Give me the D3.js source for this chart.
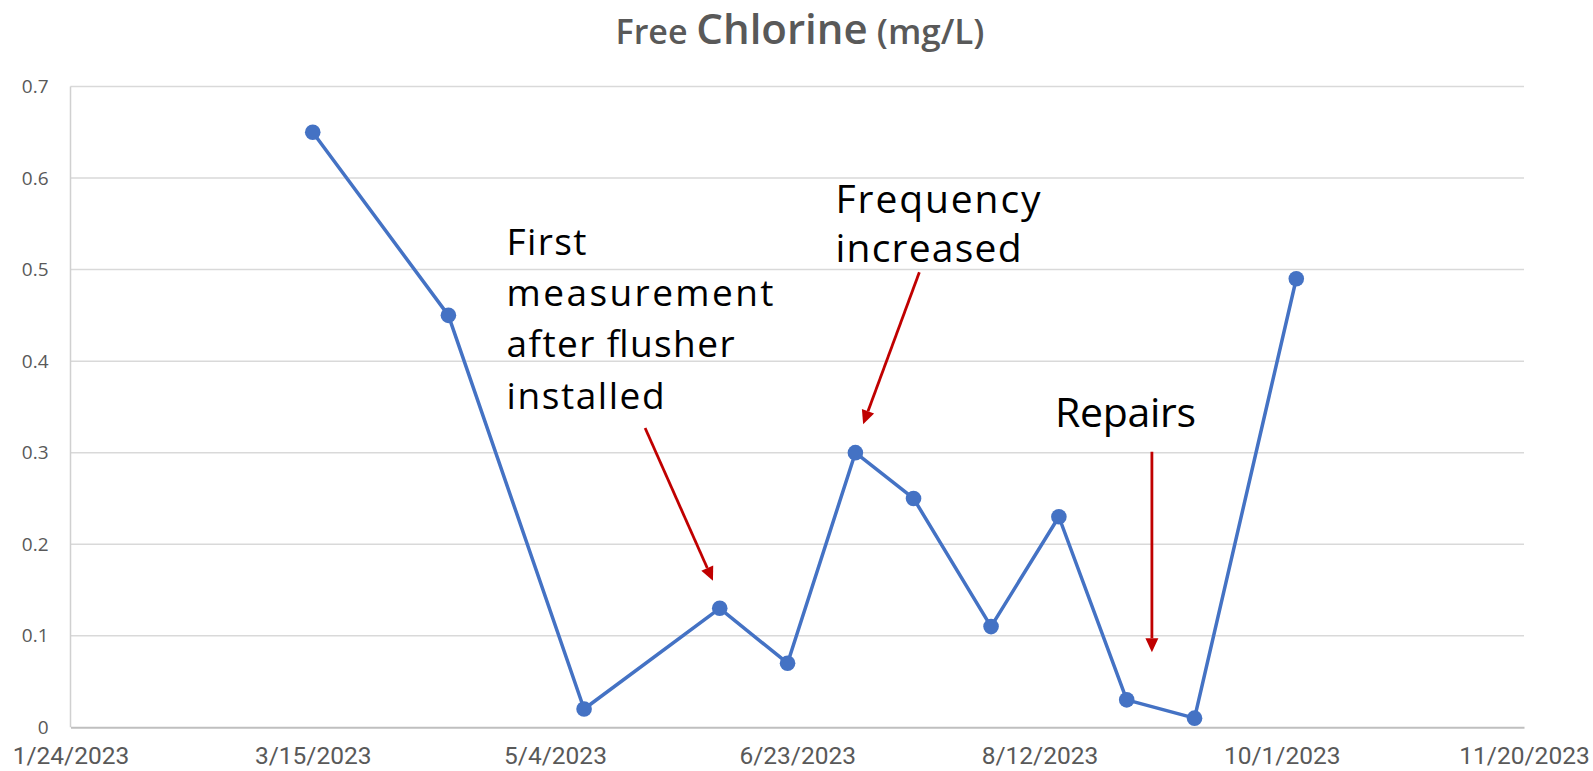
<!DOCTYPE html>
<html>
<head>
<meta charset="utf-8">
<script src="https://cdn.jsdelivr.net/npm/d3@7"></script>
<style>
  html, body { margin: 0; padding: 0; background: #ffffff; }
  svg { display: block; }
</style>
</head>
<body>
<svg id="chart" width="1593" height="771"></svg>
<script>
/* Data */
const sampleDates = ["2023-03-15", "2023-04-12", "2023-05-10", "2023-06-07", "2023-06-21", "2023-07-05",
	"2023-07-17", "2023-08-02", "2023-08-16", "2023-08-30", "2023-09-13", "2023-10-04"];
const freeChlorine = [0.65, 0.45, 0.02, 0.13, 0.07, 0.30, 0.25, 0.11, 0.23, 0.03, 0.01, 0.49];
const yTicks = [0, 0.1, 0.2, 0.3, 0.4, 0.5, 0.6, 0.7];
const xTickLabels = ["1/24/2023", "3/15/2023", "5/4/2023", "6/23/2023", "8/12/2023", "10/1/2023", "11/20/2023"];

// annotation anchors, in days after 1/24/2023 and mg/L
const noteTexts = [
	["First", "measurement", "after flusher", "installed"],
	["Frequency", "increased"],
	["Repairs"]
];
const noteArrows = [
	{ from: [118.6, 0.327], to: [132.6, 0.160] },
	{ from: [175.2, 0.497], to: [163.6, 0.331] },
	{ from: [223.2, 0.301], to: [223.2, 0.082] }
];

const width = 1593;
const height = 771;
const margin = { top: 86.5, right: 69, bottom: 43.7, left: 70.5 };

const parse = d3.utcParse("%Y-%m-%d");
const parseTick = d3.utcParse("%m/%d/%Y");
const fmt = d3.utcFormat("%-m/%-d/%Y");
const start = parseTick(xTickLabels[0]);
const end = parseTick(xTickLabels[xTickLabels.length - 1]);
const dayOf = (n) => new Date(start.getTime() + n * 864e5);

const data = sampleDates.map((d, i) => ({ date: parse(d), value: freeChlorine[i] }));

const xScale = d3.scaleUtc()
	.domain([start, end])
	.range([margin.left, width - margin.right]);

const yScale = d3.scaleLinear()
	.domain([0, 0.7])
	.range([height - margin.bottom, margin.top]);

const svg = d3.select("#chart");

/* Title */
const title = svg.append("text")
	.attr("x", 800)
	.attr("y", 44)
	.attr("text-anchor", "middle")
	.attr("fill", "#595959")
	.attr("font-family", "'Open Sans', sans-serif")
	.attr("font-weight", 600);
title.append("tspan").attr("font-size", 34).text("Free ");
title.append("tspan").attr("font-size", 42).text("Chlorine");
title.append("tspan").attr("font-size", 35).text(" (mg/L)");

/* Gridlines */
svg.append("g")
	.selectAll("line")
	.data(yTicks.filter((d) => d > 0))
	.join("line")
	.attr("x1", margin.left)
	.attr("x2", width - margin.right)
	.attr("y1", (d) => yScale(d))
	.attr("y2", (d) => yScale(d))
	.attr("stroke", "#d9d9d9")
	.attr("stroke-width", 1.5);

// left axis line
svg.append("line")
	.attr("x1", margin.left)
	.attr("x2", margin.left)
	.attr("y1", yScale(0.7))
	.attr("y2", yScale(0))
	.attr("stroke", "#d0d0d0")
	.attr("stroke-width", 1.5);

/* Y axis labels */
const yAxis = d3.axisLeft(yScale)
	.tickValues(yTicks)
	.tickSize(0)
	.tickPadding(22)
	.tickFormat((d) => d === 0 ? "0" : d3.format(".1f")(d));

svg.append("g")
	.attr("transform", `translate(${margin.left},0)`)
	.call(yAxis)
	.call((g) => g.select(".domain").remove())
	.call((g) => g.selectAll("text")
		.attr("fill", "#595959")
		.attr("font-family", "'Open Sans', sans-serif")
		.attr("font-size", 19));

/* X axis */
const xAxis = d3.axisBottom(xScale)
	.tickValues(xTickLabels.map(parseTick))
	.tickSize(0)
	.tickPadding(19)
	.tickFormat(fmt);

svg.append("g")
	.attr("transform", `translate(0,${yScale(0)})`)
	.call(xAxis)
	.call((g) => g.select(".domain")
		.attr("stroke", "#bfbfbf")
		.attr("stroke-width", 2))
	.call((g) => g.selectAll("text")
		.attr("fill", "#595959")
		.attr("font-family", "Roboto, sans-serif")
		.attr("font-size", 24.5));

/* Series */
const line = d3.line()
	.x((d) => xScale(d.date))
	.y((d) => yScale(d.value));

svg.append("path")
	.datum(data)
	.attr("fill", "none")
	.attr("stroke", "#4472C4")
	.attr("stroke-width", 3.5)
	.attr("stroke-linejoin", "round")
	.attr("d", line);

svg.append("g")
	.selectAll("circle")
	.data(data)
	.join("circle")
	.attr("cx", (d) => xScale(d.date))
	.attr("cy", (d) => yScale(d.value))
	.attr("r", 7.8)
	.attr("fill", "#4472C4");

/* Annotations */
const noteLayout = [
	{ day: 90.0, value: 0.516, size: 37, lead: 51.2, widths: [80, 267, 228, 158] },
	{ day: 157.9, value: 0.562, size: 39, lead: 49, widths: [205, 186] },
	{ day: 203.2, value: 0.328, size: 41, lead: 50, widths: [141] }
];

noteTexts.forEach((lines, i) => {
	const L = noteLayout[i];
	const t = svg.append("text")
		.attr("fill", "#000000")
		.attr("font-family", "'Open Sans', sans-serif")
		.attr("font-size", L.size);
	lines.forEach((s, j) => {
		t.append("tspan")
			.attr("x", xScale(dayOf(L.day)))
			.attr("y", yScale(L.value) + j * L.lead)
			.attr("textLength", L.widths[j])
			.attr("lengthAdjust", "spacing")
			.text(s);
	});
});

const arrowRed = "#C00000";
noteArrows.forEach((a) => {
	const x1 = xScale(dayOf(a.from[0]));
	const y1 = yScale(a.from[1]);
	const x2 = xScale(dayOf(a.to[0]));
	const y2 = yScale(a.to[1]);
	const ang = Math.atan2(y2 - y1, x2 - x1);
	const headLen = 14;
	const headHalf = 6.5;
	const bx = x2 - headLen * Math.cos(ang);
	const by = y2 - headLen * Math.sin(ang);
	svg.append("line")
		.attr("x1", x1).attr("y1", y1)
		.attr("x2", bx).attr("y2", by)
		.attr("stroke", arrowRed)
		.attr("stroke-width", 2.8);
	const px = -Math.sin(ang);
	const py = Math.cos(ang);
	svg.append("path")
		.attr("d", d3.line()([
			[x2, y2],
			[bx + px * headHalf, by + py * headHalf],
			[bx - px * headHalf, by - py * headHalf]
		]) + "Z")
		.attr("fill", arrowRed);
});
</script>
</body>
</html>
